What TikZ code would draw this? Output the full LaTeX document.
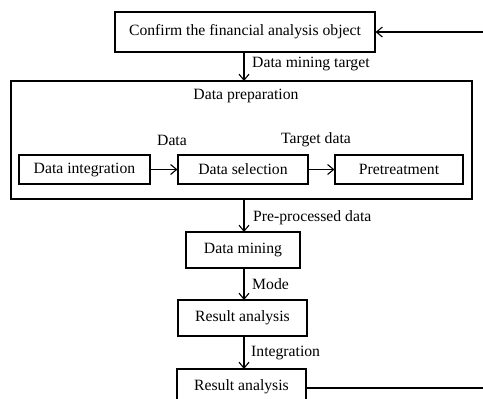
\documentclass[tikz,border=0pt]{standalone}
\usepackage{fontspec}
\setmainfont{Liberation Serif}
\usetikzlibrary{arrows.meta}
\begin{document}
\begin{tikzpicture}[x=1pt,y=-1pt,
  box/.style={draw,line width=1.1pt,inner sep=0pt,font=\fontsize{15.7}{18}\selectfont},
  lbl/.style={inner sep=0pt,font=\fontsize{15.7}{18}\selectfont},
  arr/.style={line width=1.1pt,-{Straight Barb[length=6pt,width=10pt,line width=1.1pt]}},
  ln/.style={line width=1.1pt}]
\path[use as bounding box] (0,0) rectangle (483,399);
\clip (0,0) rectangle (483,399);
\node[box,minimum width=260pt,minimum height=40pt] (top) at (245,32) {Confirm the financial analysis object};
\node[draw,line width=1.1pt,minimum width=461pt,minimum height=118pt,inner sep=0pt] (big) at (241.5,140) {};
\node[lbl] (prep) at (246,96) {Data preparation};
\node[box,minimum width=131pt,minimum height=29pt] (di) at (84.5,169.5) {Data integration};
\node[box,minimum width=130pt,minimum height=29pt] (ds) at (243,169.5) {Data selection};
\node[box,minimum width=128pt,minimum height=29pt] (pt) at (399,169.5) {Pretreatment};
\node[box,minimum width=114pt,minimum height=36pt] (dm) at (243,250) {Data mining};
\node[box,minimum width=129pt,minimum height=36pt] (ra1) at (242.5,318) {Result analysis};
\node[box,minimum width=129pt,minimum height=36pt] (ra2) at (241.5,387) {Result analysis};
\coordinate (inR) at (483,32);
\coordinate (outR) at (483,388);
\draw[arr] (inR) -- (top.east);
\draw[arr] (244,52) -- (244,81);
\draw[arr] (di.east) -- (ds.west);
\draw[arr] (ds.east) -- (pt.west);
\draw[arr] (244,199) -- (244,232);
\draw[arr] (244,268) -- (244,300);
\draw[arr] (244,336) -- (244,369);
\draw[ln] (ra2.east |- outR) -- (outR);
\node[lbl,anchor=west] (l1) at (252,64) {Data mining target};
\node[lbl] (l2) at (172,140) {Data};
\node[lbl] (l3) at (316,140) {Target data};
\node[lbl,anchor=west] (l4) at (253,218) {Pre-processed data};
\node[lbl,anchor=west] (l5) at (252,284) {Mode};
\node[lbl,anchor=west] (l6) at (251,353) {Integration};
\end{tikzpicture}
\end{document}
